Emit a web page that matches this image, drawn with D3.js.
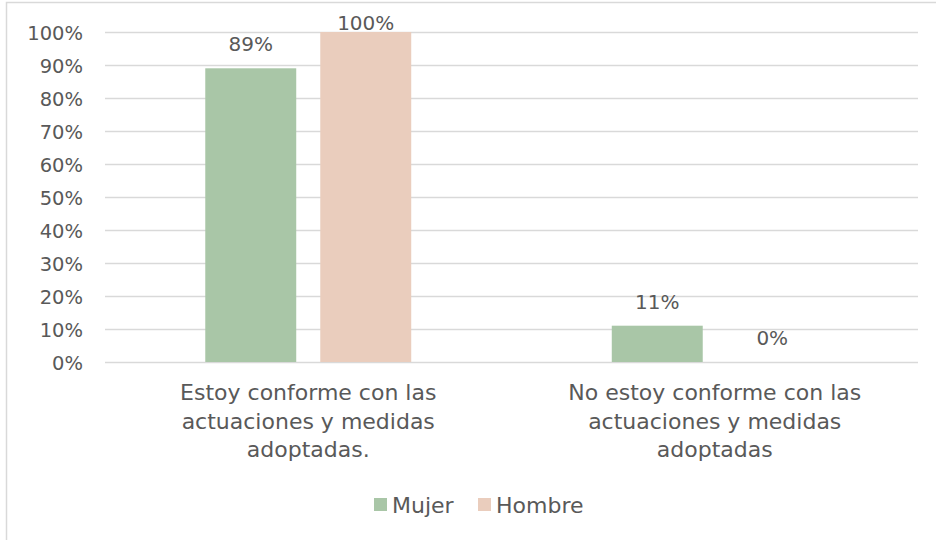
<!DOCTYPE html>
<html><head><meta charset="utf-8">
<script src="https://cdn.jsdelivr.net/npm/d3@7"></script>
<style>body{margin:0;background:#fff}svg{display:block}text{font-family:"DejaVu Sans",sans-serif;fill:#595959}</style>
</head><body><svg id="c" width="936" height="540"></svg>
<script>
const categories = [["Estoy conforme con las","actuaciones y medidas","adoptadas."],["No estoy conforme con las","actuaciones y medidas","adoptadas"]];
const series = ["Mujer","Hombre"];
const mujer = [0.89, 0.11];
const hombre = [1.00, 0.00];
const labels = [["89%","11%"],["100%","0%"]];
const ticks = [0,0.1,0.2,0.3,0.4,0.5,0.6,0.7,0.8,0.9,1.0];
const colors = ["#A9C6A7","#EACDBD"];

(function(){
const svg = d3.select("#c");
svg.append("rect").attr("x",6.5).attr("y",2.5).attr("width",940).attr("height",545).attr("fill","#fff").attr("stroke","#D9D9D9").attr("stroke-width",1.5);

const pl=105,pr=918,pt=32,pb=362;
const x0 = d3.scaleBand().domain([0,1]).range([pl,pr]);
const x1 = d3.scaleBand().domain([0,1]).range([0,x0.bandwidth()]).paddingInner(0.209).paddingOuter(0.872);
const y = d3.scaleLinear().domain([0,1]).range([pb,pt]);

svg.append("g").selectAll("line").data(ticks).join("line")
  .attr("x1",pl).attr("x2",pr).attr("y1",d=>Math.round(y(d))+0.5).attr("y2",d=>Math.round(y(d))+0.5)
  .attr("stroke","#D9D9D9").attr("stroke-width",1.5);

const yAxis = d3.axisLeft(y).tickValues(ticks).tickFormat(d3.format(".0%")).tickSize(0).tickPadding(0);
const ya = svg.append("g").attr("transform","translate(83,0)").call(yAxis);
ya.select(".domain").remove();
ya.selectAll("text").style("font-size","19.5px").attr("fill","#595959").attr("dy","0.36em").style("font-family","'DejaVu Sans',sans-serif");

const data = [mujer, hombre];
data.forEach((vals,si)=>{
  vals.forEach((v,ci)=>{
    const bx = x0(ci)+x1(si);
    svg.append("rect").attr("x",bx).attr("y",y(v)).attr("width",x1.bandwidth()).attr("height",pb-y(v)).attr("fill",colors[si]);
    svg.append("text").attr("x",bx+x1.bandwidth()/2).attr("y",Math.max(y(v)-17,30))
      .attr("text-anchor","middle").style("font-size","20px").text(labels[si][ci]);
  });
});

categories.forEach((lines,ci)=>{
  const t = svg.append("text").attr("text-anchor","middle").style("font-size","22px");
  lines.forEach((l,i)=>t.append("tspan").attr("x",x0(ci)+x0.bandwidth()/2).attr("y",400+i*28.5).text(l));
});

const leg = [374,478];
series.forEach((s,i)=>{
  svg.append("rect").attr("x",leg[i]).attr("y",498).attr("width",13).attr("height",13).attr("fill",colors[i]);
  svg.append("text").attr("x",leg[i]+18).attr("y",513).style("font-size","22px").text(s);
});
})();
</script></body></html>
